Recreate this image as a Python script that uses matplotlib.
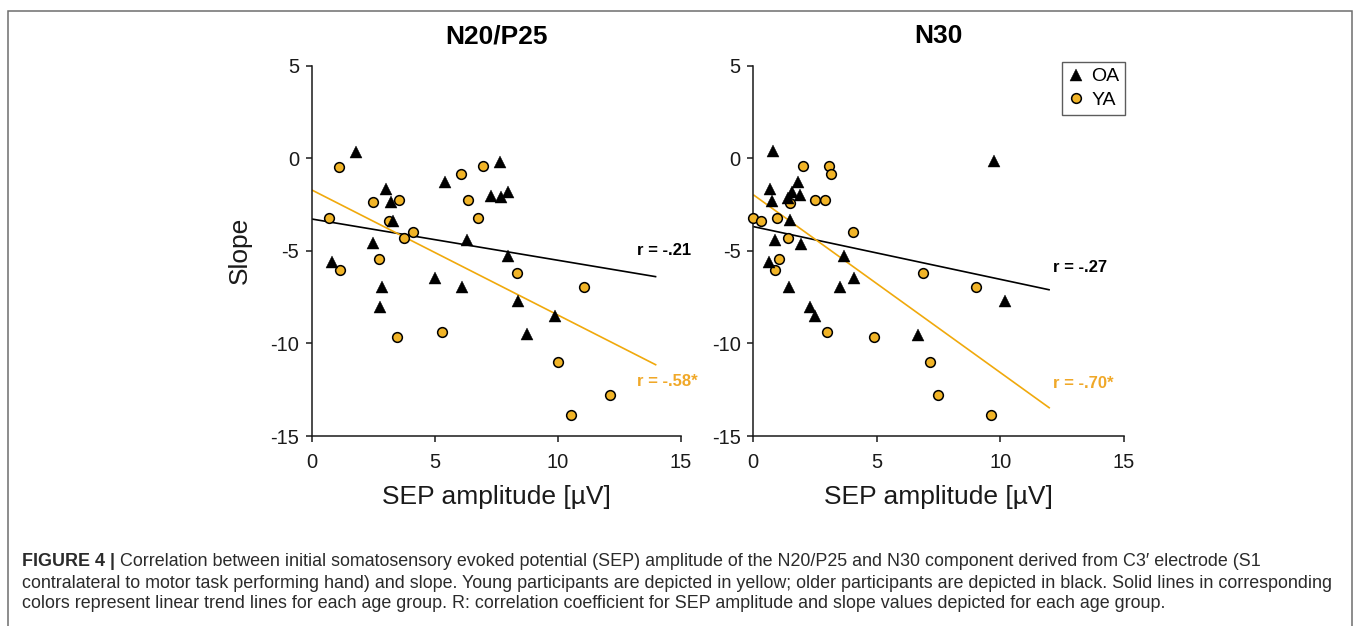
import matplotlib
matplotlib.use("Agg")
import matplotlib.pyplot as plt
from matplotlib.lines import Line2D
from matplotlib.patches import Rectangle

# ---------------- data ----------------
panel_titles = ["N20/P25", "N30"]

n20_oa_x = [1.79, 7.66, 5.40, 3.01, 7.28, 7.68, 7.96, 3.23, 3.32, 6.29, 2.47, 7.98, 0.84, 5.02, 6.11, 2.86, 8.39, 2.78, 9.88, 8.73]
n20_oa_y = [0.36, -0.18, -1.30, -1.68, -2.02, -2.11, -1.84, -2.36, -3.37, -4.41, -4.59, -5.28, -5.59, -6.45, -6.94, -6.97, -7.69, -8.02, -8.52, -9.51]
n20_ya_x = [1.11, 6.08, 6.95, 2.51, 3.56, 6.34, 0.69, 6.77, 3.16, 4.10, 3.76, 2.73, 1.13, 8.32, 11.08, 3.46, 5.30, 9.99, 12.12, 10.52]
n20_ya_y = [-0.45, -0.85, -0.42, -2.38, -2.24, -2.24, -3.24, -3.24, -3.39, -4.00, -4.32, -5.42, -6.03, -6.18, -6.94, -9.64, -9.38, -11.00, -12.79, -13.88]

n30_oa_x = [0.81, 9.74, 1.82, 0.69, 1.55, 1.90, 1.42, 0.76, 1.50, 0.87, 1.93, 3.69, 0.65, 4.07, 1.46, 3.52, 10.20, 2.28, 2.51, 6.68]
n30_oa_y = [0.37, -0.17, -1.29, -1.67, -1.83, -2.01, -2.14, -2.33, -3.36, -4.41, -4.62, -5.27, -5.61, -6.44, -6.96, -6.93, -7.69, -8.01, -8.51, -9.54]
n30_ya_x = [2.01, 3.05, 3.15, 2.51, 2.91, 1.49, 0.00, 0.30, 0.95, 4.02, 1.42, 1.04, 0.89, 6.85, 9.02, 3.00, 4.89, 7.17, 7.48, 9.61]
n30_ya_y = [-0.44, -0.41, -0.84, -2.24, -2.24, -2.39, -3.23, -3.39, -3.25, -3.99, -4.31, -5.43, -6.03, -6.17, -6.93, -9.38, -9.65, -11.00, -12.78, -13.88]

# trend lines (x range, y at ends)
n20_oa_fit_x = [0, 14];  n20_oa_fit_y = [-3.28, -6.40]
n20_ya_fit_x = [0, 14];  n20_ya_fit_y = [-1.71, -11.17]
n30_oa_fit_x = [0, 12];  n30_oa_fit_y = [-3.69, -7.11]
n30_ya_fit_x = [0, 12];  n30_ya_fit_y = [-1.97, -13.50]

r_labels_oa = ["r = -.21", "r = -.27"]
r_labels_ya = ["r = -.58*", "r = -.70*"]
r_oa_pos = [(13.2, -5.0), (12.13, -5.88)]
r_ya_pos = [(13.2, -12.03), (12.13, -12.15)]

legend_labels = ["OA", "YA"]
x_ticks = [0, 5, 10, 15]
y_ticks = [5, 0, -5, -10, -15]
x_label = "SEP amplitude [µV]"
y_label = "Slope"

caption_bold = "FIGURE 4 |"
caption_lines = [
    " Correlation between initial somatosensory evoked potential (SEP) amplitude of the N20/P25 and N30 component derived from C3\u2032 electrode (S1",
    "contralateral to motor task performing hand) and slope. Young participants are depicted in yellow; older participants are depicted in black. Solid lines in corresponding",
    "colors represent linear trend lines for each age group. R: correlation coefficient for SEP amplitude and slope values depicted for each age group.",
]

# ---------------- style ----------------
plt.rcParams['font.family'] = ['Liberation Sans', 'DejaVu Sans']
plt.rcParams['axes.unicode_minus'] = False

YELLOW_FILL = '#F1B427'
YELLOW_LINE = '#F0A90C'
YELLOW_TEXT = '#F0A828'
AXCOL = '#1a1a1a'

W, H = 1360, 626
fig = plt.figure(figsize=(W / 100, H / 100), dpi=100)

def px_axes(x0, x1, y_top, y_bot):
    return [x0 / W, 1 - y_bot / H, (x1 - x0) / W, (y_bot - y_top) / H]

ax1 = fig.add_axes(px_axes(311.7, 681.0, 65.7, 436.0))
ax2 = fig.add_axes(px_axes(753.3, 1124.0, 65.7, 436.0))

panels = [
    (ax1, n20_oa_x, n20_oa_y, n20_ya_x, n20_ya_y, n20_oa_fit_x, n20_oa_fit_y, n20_ya_fit_x, n20_ya_fit_y),
    (ax2, n30_oa_x, n30_oa_y, n30_ya_x, n30_ya_y, n30_oa_fit_x, n30_oa_fit_y, n30_ya_fit_x, n30_ya_fit_y),
]

for i, (ax, ox, oy, yx, yy, ofx, ofy, yfx, yfy) in enumerate(panels):
    ax.plot(ofx, ofy, color='black', lw=1.2, zorder=2, solid_capstyle='butt')
    ax.plot(yfx, yfy, color=YELLOW_LINE, lw=1.2, zorder=2, solid_capstyle='butt')
    ax.plot(yx, yy, linestyle='none', marker='o', ms=7.0, mfc=YELLOW_FILL,
            mec='black', mew=1.1, zorder=3, clip_on=False)
    ax.plot(ox, oy, linestyle='none', marker='^', ms=8.3, mfc='black',
            mec='black', mew=0.3, zorder=4, clip_on=False)

    ax.text(r_oa_pos[i][0], r_oa_pos[i][1], r_labels_oa[i], fontsize=12,
            fontweight='bold', color='black', ha='left', va='center')
    ax.text(r_ya_pos[i][0], r_ya_pos[i][1], r_labels_ya[i], fontsize=12,
            fontweight='bold', color=YELLOW_TEXT, ha='left', va='center')

    ax.set_xlim(0, 15)
    ax.set_ylim(-15, 5)
    ax.set_xticks(x_ticks)
    ax.set_yticks(y_ticks)
    ax.set_xticklabels([str(t) for t in x_ticks])
    ax.set_yticklabels([str(t) for t in y_ticks])
    for s in ['top', 'right']:
        ax.spines[s].set_visible(False)
    for s in ['left', 'bottom']:
        ax.spines[s].set_linewidth(1.1)
        ax.spines[s].set_color(AXCOL)
    ax.tick_params(axis='both', direction='out', length=4, width=1.1,
                   color=AXCOL, labelsize=14.5, labelcolor='#1a1a1a')
    ax.tick_params(axis='x', pad=8)
    ax.tick_params(axis='y', pad=5)
    ax.set_facecolor('none')

    ax.set_xlabel(x_label, fontsize=19, color='#1a1a1a')
    ax.xaxis.set_label_coords(0.5, (436 - 497) / 370.3)
    ax.xaxis.label.set_va('center')

    ax.text(0.5, (436 - 36) / 370.3, panel_titles[i], transform=ax.transAxes,
            ha='center', va='center', fontsize=19, fontweight='bold', color='black')

ax1.set_ylabel(y_label, fontsize=19, color='#1a1a1a')
ax1.yaxis.set_label_coords((240 - 311.7) / 369.3, 0.5)
ax1.yaxis.label.set_va('center')

# legend
handles = [
    Line2D([], [], linestyle='none', marker='^', ms=8.3, mfc='black', mec='black', mew=0.3),
    Line2D([], [], linestyle='none', marker='o', ms=7.0, mfc=YELLOW_FILL, mec='black', mew=1.1),
]
leg = fig.legend(handles, legend_labels, loc='upper left',
                 bbox_to_anchor=(1062 / W, 1 - 62 / H), borderaxespad=0,
                 fontsize=14, frameon=True, fancybox=False, edgecolor='#333333',
                 handlelength=0.8, handletextpad=0.4, labelspacing=0.3,
                 borderpad=0.3)
leg.get_frame().set_linewidth(1.0)

# outer frame (bottom edge beyond the canvas)
fig.patches.append(Rectangle((8 / W, -0.1), (1352 - 8) / W, 1.1 - 11 / H,
                             transform=fig.transFigure, fill=False,
                             edgecolor='#6e6e6e', lw=1.1, clip_on=False))

# caption
cap_x = 22 / W
cap_y = [561, 583, 604]
renderer = fig.canvas.get_renderer()
probe = fig.text(0, 0, caption_lines[1], fontsize=12)
w = probe.get_window_extent(renderer=renderer).width
probe.remove()
cap_fs = 12 * (1314 / w)

tb = fig.text(cap_x, 1 - cap_y[0] / H, caption_bold, fontsize=cap_fs, fontweight='bold',
              color='#2b2b2b', ha='left', va='center')
bw = tb.get_window_extent(renderer=renderer).width
fig.text(cap_x + bw / W, 1 - cap_y[0] / H, caption_lines[0], fontsize=cap_fs,
         color='#2b2b2b', ha='left', va='center')
for line, yy in zip(caption_lines[1:], cap_y[1:]):
    fig.text(cap_x, 1 - yy / H, line, fontsize=cap_fs, color='#2b2b2b',
             ha='left', va='center')

fig.savefig('out.png', dpi=100, facecolor='white')
